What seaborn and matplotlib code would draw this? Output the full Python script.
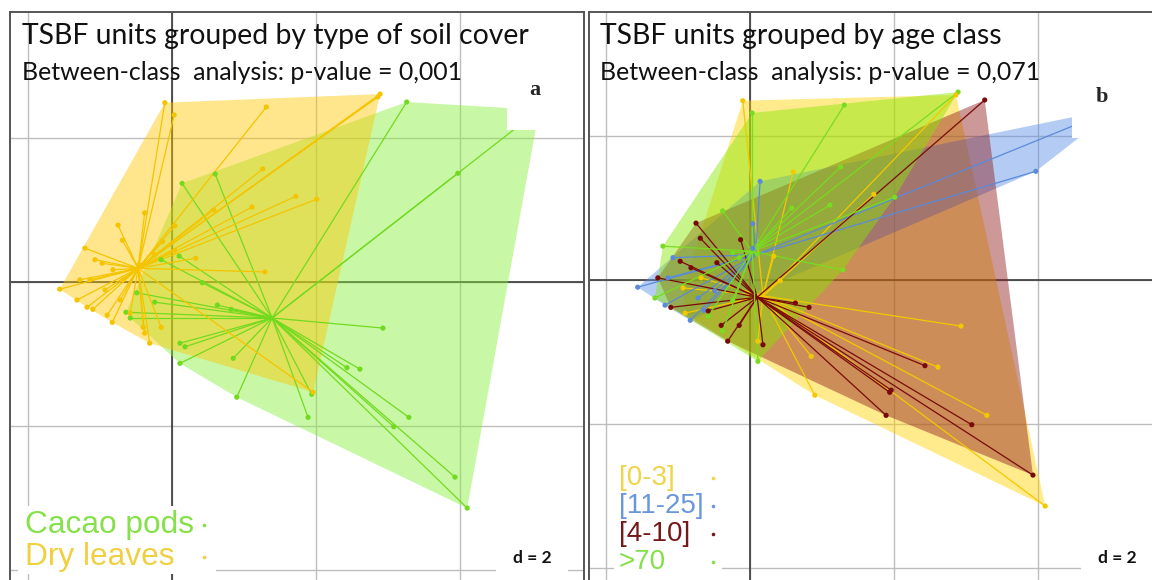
import numpy as np
import pandas as pd
import matplotlib
matplotlib.use("Agg")
import matplotlib.pyplot as plt
from matplotlib.collections import LineCollection
from matplotlib.patches import Rectangle
from matplotlib.lines import Line2D
import seaborn as sns

# Scores of the TSBF sampling units on the first factorial plane (axis 1, axis 2)
axis1 = [-0.10, 0.03, 1.31, 2.89, 2.86, 1.26, 1.72, 2.01, 1.11, 0.58, 0.04, 1.29,
         3.26, 5.10, 3.97, 0.60, 0.14, 2.93, 0.90, 0.85, 1.94, 1.89, 2.43, 2.61,
         3.29, 3.08, 3.93, 4.10, 1.96, 0.10, -0.15, 0.42, -0.49, -0.24, -0.64, -0.58,
         0.63, 0.82, 0.11, 0.18, 0.11, -0.38, -0.75, -0.69, -1.21, -1.07, -0.97, -1.56,
         -1.32, -1.18, -1.10, -0.90, -0.83, -0.58, -0.40, -0.38, -0.31, -0.15, -1.28, -1.14,
         -0.68, -0.82, 0.04, -0.24, -0.93, -0.72, 0.33, -0.13, -0.46]
axis2 = [2.49, 2.32, 2.43, 2.61, 2.57, 1.57, 1.19, 1.15, 1.04, 1.00, 0.78, 0.14,
         2.50, 2.39, 1.51, 1.50, 1.37, -0.64, -1.60, -1.06, -1.56, -1.88, -1.19, -1.21,
         -1.88, -2.01, -2.71, -3.14, -1.53, 0.36, 0.31, -0.01, -0.15, -0.28, -0.42, -0.50,
         -0.32, -0.38, -0.85, -0.90, -1.13, 0.96, 0.79, 0.58, 0.47, 0.31, 0.26, -0.10,
         -0.25, -0.35, -0.38, -0.46, -0.56, -0.43, -0.63, -0.71, -0.85, -0.63, 0.03, 0.03,
         0.03, 0.17, 0.44, 0.38, -0.11, -0.25, 0.33, 0.56, 0.24]

D, C = "Dry leaves", "Cacao pods"
soil_cover = [D, D, D, D, D, D, D, D, D, D, D, D,
              C, C, C, C, C, C, C, C, C, C, C, C,
              C, C, C, C, D, C, C, C, C, C, C, C,
              C, C, C, C, C, D, D, D, D, D, D, D,
              D, D, D, D, D, D, D, D, D, D, D, D,
              D, D, D, D, D, D, D, D, D]

A, B, R, G = "[0-3]", "[11-25]", "[4-10]", ">70"
age_class = [A, G, G, G, A, G, A, G, G, G, B, G,
             R, B, B, A, B, A, A, A, R, R, R, A,
             A, R, R, A, R, G, G, A, B, G, B, G,
             R, R, A, R, G, G, R, R, G, B, R, B,
             G, B, R, A, B, R, R, G, R, R, R, B,
             A, R, B, G, A, B, A, R, R]

cover_levels = ["Cacao pods", "Dry leaves"]
age_levels = ["[0-3]", "[11-25]", "[4-10]", ">70"]

# Class gravity centres (centres of the stars)
cover_cx = [1.39, -0.47]
cover_cy = [-0.50, 0.19]
age_cx = [0.18, 0.08, 0.10, 0.03]
age_cy = [-0.22, 0.35, -0.24, 0.40]

titles = ["TSBF units grouped by type of soil cover", "TSBF units grouped by age class"]
subtitles = ["Between-class  analysis: p-value = 0,001",
             "Between-class  analysis: p-value = 0,071"]
panel_tags = ["a", "b"]

cover_line = {"Cacao pods": "#72DA1E", "Dry leaves": "#F4C400"}
cover_fill = {"Cacao pods": "#86EE3A", "Dry leaves": "#FFC800"}
cover_text = {"Cacao pods": "#86E04A", "Dry leaves": "#F0D040"}
age_line = {"[0-3]": "#F4C800", "[11-25]": "#5B8AD8", "[4-10]": "#7A0A0A", ">70": "#78DC20"}
age_fill = {"[0-3]": "#FFD200", "[11-25]": "#5A8EE6", "[4-10]": "#8E1C1C", ">70": "#86E800"}
age_text = {"[0-3]": "#F0D448", "[11-25]": "#6A96DC", "[4-10]": "#741818", ">70": "#84E048"}

df = pd.DataFrame({"x": axis1, "y": axis2, "cover": soil_cover, "age": age_class})

sns.set_theme(style="white")
plt.rcParams["font.family"] = ["Lato", "DejaVu Sans"]

W, H = 1152, 580
fig = plt.figure(figsize=(W / 100, H / 100), dpi=100)
fig.patch.set_facecolor("white")


def fpos(x, y):
    return x / W, 1 - y / H


def hull(pts):
    pts = sorted(set(map(tuple, pts)))
    if len(pts) < 3:
        return np.array(pts)

    def cross(o, a, b):
        return (a[0] - o[0]) * (b[1] - o[1]) - (a[1] - o[1]) * (b[0] - o[0])
    lower, upper = [], []
    for p in pts:
        while len(lower) >= 2 and cross(lower[-2], lower[-1], p) <= 0:
            lower.pop()
        lower.append(p)
    for p in reversed(pts):
        while len(upper) >= 2 and cross(upper[-2], upper[-1], p) <= 0:
            upper.pop()
        upper.append(p)
    return np.array(lower[:-1] + upper[:-1])


BOTTOM_PX = 592


def make_axes(left_px, right_px, top_px):
    return fig.add_axes([left_px / W, 1 - BOTTOM_PX / H,
                         (right_px - left_px) / W, (BOTTOM_PX - top_px) / H])


def style_axes(ax, left_px, right_px, top_px, ox, oy):
    scale = 72.0
    ax.set_xticks(np.arange(-2, 6, 2))
    ax.set_yticks(np.arange(-4, 4, 2))
    ax.set_xlim((left_px - ox) / scale, (right_px - ox) / scale)
    ax.set_ylim((oy - BOTTOM_PX) / scale, (oy - top_px) / scale)
    ax.tick_params(length=0, labelbottom=False, labelleft=False)
    ax.grid(True, color="#BDBDBD", lw=1.0)
    ax.set_axisbelow(True)
    ax.axhline(0, color="#2A2A2A", lw=1.1, zorder=1)
    ax.axvline(0, color="#2A2A2A", lw=1.1, zorder=1)
    for s in ax.spines.values():
        s.set_color("#555555")
        s.set_linewidth(1.4)
    ax.spines["bottom"].set_visible(False)
    ax.set_xlabel("")
    ax.set_ylabel("")


def draw_classes(ax, col, levels, cx, cy, line_c, fill_c, alpha):
    for lev in levels:
        sub = df[df[col] == lev]
        hv = hull(sub[["x", "y"]].values)
        ax.fill(hv[:, 0], hv[:, 1], color=fill_c[lev], alpha=alpha, lw=0, zorder=2)
    for i, lev in enumerate(levels):
        sub = df[df[col] == lev]
        segs = [[(cx[i], cy[i]), (px, py)] for px, py in zip(sub["x"], sub["y"])]
        ax.add_collection(LineCollection(segs, colors=line_c[lev], lw=0.9, zorder=3))
    sns.scatterplot(data=df, x="x", y="y", hue=col, hue_order=levels, palette=line_c,
                    s=14, linewidth=0, legend=False, ax=ax, zorder=4)


# Panel a: soil cover
ax_a = make_axes(10, 584, 12)
draw_classes(ax_a, "cover", cover_levels, cover_cx, cover_cy, cover_line, cover_fill, 0.45)
style_axes(ax_a, 10, 584, 12, 172, 282)

# Panel b: age class
ax_b = make_axes(589, 1164, 12)
draw_classes(ax_b, "age", age_levels, age_cx, age_cy, age_line, age_fill, 0.45)
style_axes(ax_b, 589, 1164, 12, 750, 280)


def white_box(x0, y0, x1, y1):
    fx0, fy1 = fpos(x0, y0)
    fx1, fy0 = fpos(x1, y1)
    fig.add_artist(Rectangle((fx0, fy0), fx1 - fx0, fy1 - fy0, transform=fig.transFigure,
                             facecolor="white", edgecolor="none", zorder=5))


def dot(x, y, color):
    fx, fy = fpos(x, y)
    fig.add_artist(Line2D([fx], [fy], marker="o", ms=2.6, color=color, mew=0,
                          transform=fig.transFigure, zorder=6))


# white label boxes
white_box(507, 55, 583, 130)
white_box(1072, 55, 1152, 138)
white_box(496, 543, 568, 576)
white_box(1081, 543, 1152, 576)
white_box(18, 506, 216, 574)
white_box(614, 455, 722, 576)

# titles
for (tx, title, sub) in [(22, titles[0], subtitles[0]), (600, titles[1], subtitles[1])]:
    fig.text(*fpos(tx, 36), title, fontsize=20.4, color="#111111", va="center", ha="left", zorder=6)
    fig.text(*fpos(tx, 72), sub, fontsize=17.9, color="#111111", va="center", ha="left", zorder=6)

# panel tags
fig.text(*fpos(535, 90), panel_tags[0], fontsize=16, fontweight="bold", family="Liberation Serif",
         ha="center", va="center", zorder=6)
fig.text(*fpos(1102, 97), panel_tags[1], fontsize=16, fontweight="bold", family="Liberation Serif",
         ha="center", va="center", zorder=6)

# grid step
for dx in (532, 1117):
    fig.text(*fpos(dx, 558), "d = 2", fontsize=12.5, fontweight="bold", color="#111111",
             ha="center", va="center", zorder=6)

# legends
for i, lev in enumerate(cover_levels):
    y = 525 + 32 * i
    fig.text(*fpos(25, y), lev, fontsize=22.8, color=cover_text[lev], family="Liberation Sans",
             ha="left", va="center", zorder=6)
    dot(204, y, cover_text[lev])

for i, lev in enumerate(age_levels):
    y = 478 + 28 * i
    fig.text(*fpos(619, y), lev, fontsize=20, color=age_text[lev], family="Liberation Sans",
             ha="left", va="center", zorder=6)
    dot(713, y, age_text[lev])

fig.savefig("out.png", dpi=100, facecolor="white")
